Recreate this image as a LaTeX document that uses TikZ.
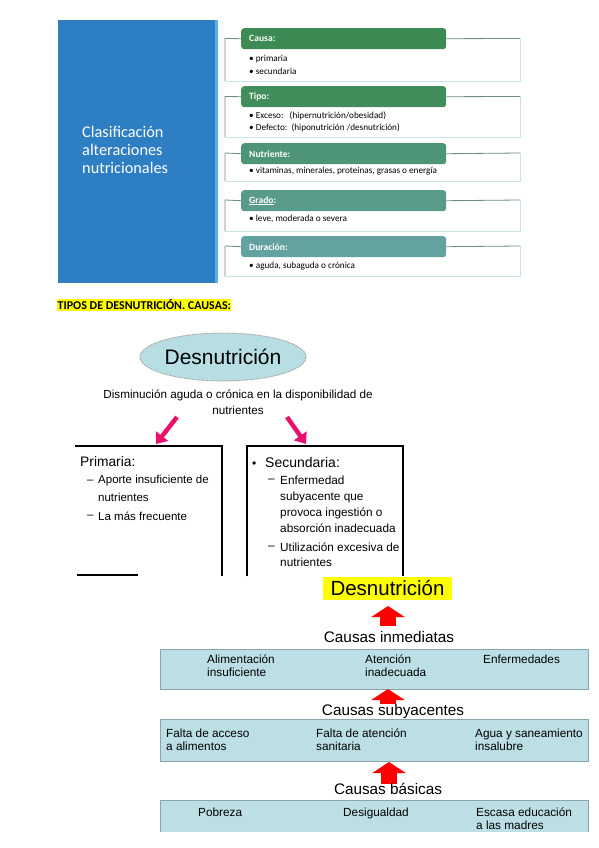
\documentclass[tikz,border=0pt]{standalone}
\usepackage{fontspec}
\setmainfont{Liberation Sans}
\newfontfamily\calfont{Carlito}
\usetikzlibrary{shapes.geometric,arrows.meta}
\definecolor{panelblue}{RGB}{46,126,196}
\definecolor{stripeblue}{RGB}{90,176,232}
\definecolor{hA}{RGB}{62,138,85}
\definecolor{hB}{RGB}{65,141,92}
\definecolor{hC}{RGB}{78,148,118}
\definecolor{hD}{RGB}{89,155,138}
\definecolor{hE}{RGB}{99,162,158}
\definecolor{brkdark}{RGB}{110,140,130}
\definecolor{brklight}{RGB}{200,228,230}
\definecolor{ellblue}{RGB}{182,222,227}
\definecolor{bandblue}{RGB}{188,223,229}
\definecolor{bandedge}{RGB}{140,165,170}
\definecolor{pinkarr}{RGB}{234,16,108}
\definecolor{hl}{RGB}{255,255,0}
\tikzset{
  hdr/.style={anchor=north west, rounded corners=3pt, minimum width=205, minimum height=21,
    text width=189, inner xsep=8, inner ysep=0, align=left, text=white,
    font=\calfont\bfseries\fontsize{9.6}{10}\selectfont},
  itm/.style={anchor=west, inner sep=0, font=\calfont\fontsize{9.2}{10}\selectfont},
  brkd/.style={draw=brkdark, line width=0.8},
  brkl/.style={draw=brklight, line width=0.8},
  pinkarrow/.style={draw=pinkarr, line width=4.5, -{Triangle[length=10pt,width=15pt]}},
  redarrow/.style={draw=red, line width=16, -{Triangle[length=11pt,width=33pt]}},
  boxline/.style={draw=black, line width=1.6},
  ptxt/.style={anchor=west, inner sep=0, font=\fontsize{11.5}{12}\selectfont},
  stxt/.style={anchor=west, inner sep=0, font=\fontsize{11.8}{13}\selectfont},
  band/.style={fill=bandblue, draw=bandedge, line width=1},
  btxt/.style={anchor=north west, inner sep=0, align=left, font=\fontsize{11.8}{12.8}\selectfont},
  lbl/.style={inner sep=0, font=\fontsize{15.3}{17}\selectfont},
}
\begin{document}
\begin{tikzpicture}[x=1pt,y=-1pt]
\useasboundingbox (0,0) rectangle (599,848);
\fill[white] (0,0) rectangle (599,848);

% ---------- top: classification ----------
\fill[panelblue] (58,20) rectangle (215,283);
\fill[stripeblue] (215,20) rectangle (218,283);
\node[anchor=west, inner sep=0, align=left, text=white,
  font=\calfont\fontsize{16.3}{17.6}\selectfont] (title) at (82,150)
  {Clasificación\\alteraciones\\nutricionales};

% item 1
\draw[brkl] (225,81) -- (520,81) -- (520,39);
\node[hdr, fill=hA] (h1) at (241,28) {Causa:};
\draw[brkd] (h1.west) -- (225,38.5) -- (225,81);
\draw[brkd] (h1.east) -- (520,38.5);
\node[itm] (i1a) at (249,59) {• primaria};
\node[itm] (i1b) at (249,71) {• secundaria};

% item 2
\draw[brkl] (225,137) -- (520,137) -- (520,96);
\node[hdr, fill=hB] (h2) at (241,86) {Tipo:};
\draw[brkd] (h2.west) -- (225,96.5) -- (225,137);
\draw[brkd] (h2.east) -- (520,96.5);
\node[itm] (i2a) at (249,116) {• Exceso:\ \ \ (hipernutrición/obesidad)};
\node[itm] (i2b) at (249,128) {• Defecto:\ \ (hiponutrición /desnutrición)};

% item 3
\draw[brkl] (225,181) -- (520,181) -- (520,153);
\node[hdr, fill=hC] (h3) at (241,143) {Nutriente:};
\draw[brkd] (h3.west) -- (225,153) -- (225,181);
\draw[brkd] (h3.east) -- (520,153);
\node[itm] (i3a) at (249,171) {• vitaminas, minerales, proteínas, grasas o energía};

% item 4
\draw[brkl] (225,231) -- (520,231) -- (520,200);
\node[hdr, fill=hD] (h4) at (241,190) {\underline{Grado}:};
\draw[brkd] (h4.west) -- (225,200) -- (225,231);
\draw[brkd] (h4.east) -- (520,200);
\node[itm] (i4a) at (249,219) {• leve, moderada o severa};

% item 5
\draw[brkl] (225,276) -- (520,276) -- (520,246);
\node[hdr, fill=hE] (h5) at (241,236) {Duración:};
\draw[brkd] (h5.west) -- (225,246) -- (225,276);
\draw[brkd] (h5.east) -- (520,246);
\node[itm] (i5a) at (249,266) {• aguda, subaguda o crónica};

% ---------- title ----------
\node[anchor=west, fill=hl, inner xsep=0.5, inner ysep=1.2,
  font=\calfont\bfseries\fontsize{12}{13}\selectfont] (tipos) at (57,305)
  {TIPOS DE DESNUTRICIÓN. CAUSAS:};

% ---------- middle: desnutrición types ----------
\node[ellipse, fill=ellblue, draw=gray!70, line width=1, dash pattern=on 1.5pt off 1pt,
  minimum width=166, minimum height=48, inner sep=0,
  font=\fontsize{21}{24}\selectfont] (des) at (223,357) {Desnutrición};
\node[inner sep=0, align=center, font=\fontsize{11.7}{16.5}\selectfont] (defn) at (238,402)
  {Disminución aguda o crónica en la disponibilidad de\\nutrientes};

\coordinate (pa1s) at (177,417);
\coordinate (pa1e) at (156,444);
\coordinate (pa2s) at (287,417);
\coordinate (pa2e) at (306,444);
\draw[pinkarrow] (pa1s) -- (pa1e);
\draw[pinkarrow] (pa2s) -- (pa2e);

% primaria box
\coordinate (pTL) at (75,446);
\coordinate (pTR) at (222,446);
\coordinate (pBR) at (222,576);
\draw[boxline] (pTL) -- (pTR) -- (pBR);
\coordinate (pb1) at (77,575);
\coordinate (pb2) at (138,575);
\draw[draw=black, line width=1.2] (pb1) -- (pb2);
\node[anchor=west, inner sep=0, font=\fontsize{13.8}{15}\selectfont] (prim) at (80,462) {Primaria:};
\node[ptxt] (pd1) at (87,482) {–};
\node[ptxt] (p1a) at (98,481) {Aporte insuficiente de};
\node[ptxt] (p1b) at (98,497) {nutrientes};
\node[ptxt] (pd2) at (87,517) {–};
\node[ptxt] (p2a) at (98,516) {La más frecuente};

% secundaria box
\coordinate (sBL) at (247,576);
\coordinate (sTL) at (247,446);
\coordinate (sTR) at (403,446);
\coordinate (sBR) at (403,576);
\draw[boxline] (sBL) -- (sTL) -- (sTR) -- (sBR);
\node[anchor=base west, inner sep=0, font=\fontsize{12}{13}\selectfont] (sbul) at (252,467) {•};
\node[anchor=west, inner sep=0, font=\fontsize{14}{15}\selectfont] (sec) at (265,462) {Secundaria:};
\node[stxt] (sd1) at (268,481) {–};
\node[stxt] (s1a) at (280,480) {Enfermedad};
\node[stxt] (s1b) at (280,497) {subyacente que};
\node[stxt] (s1c) at (280,513) {provoca ingestión o};
\node[stxt] (s1d) at (280,528) {absorción inadecuada};
\node[stxt] (sd2) at (268,548) {–};
\node[stxt] (s2a) at (280,547) {Utilización excesiva de};
\node[stxt] (s2b) at (280,562) {nutrientes};

% ---------- bottom: causes ----------
\node[fill=hl, minimum width=129, minimum height=23, inner sep=0,
  font=\fontsize{20.5}{23}\selectfont] (des2) at (387.5,588.5) {Desnutrición};

\coordinate (ra1s) at (388,626);
\coordinate (ra1e) at (388,606);
\draw[redarrow] (ra1s) -- (ra1e);
\node[lbl] (ci) at (389,637) {Causas inmediatas};

\node[band, anchor=north west, minimum width=428, minimum height=40, inner sep=0] (b1) at (160,649) {};
\node[btxt] (b1a) at (207,655) {Alimentación\\insuficiente};
\node[btxt] (b1b) at (365,655) {Atención\\inadecuada};
\node[btxt] (b1c) at (483,655) {Enfermedades};

\coordinate (ra2s) at (388,704);
\coordinate (ra2e) at (388,689);
\draw[redarrow] (ra2s) -- (ra2e);
\node[lbl] (cs) at (393,712) {Causas subyacentes};

\node[band, anchor=north west, minimum width=428, minimum height=42, inner sep=0] (b2) at (160,719) {};
\node[btxt] (b2a) at (166,729) {Falta de acceso\\a alimentos};
\node[btxt] (b2b) at (316,729) {Falta de atención\\sanitaria};
\node[btxt] (b2c) at (475,729) {Agua y saneamiento\\insalubre};

\coordinate (ra3s) at (389,784);
\coordinate (ra3e) at (389,762);
\draw[redarrow] (ra3s) -- (ra3e);
\node[lbl] (cb) at (388,789) {Causas básicas};

\fill[bandblue] (160,800) rectangle (588,832);
\coordinate (b3bl) at (160,832);
\coordinate (b3tl) at (160,800);
\coordinate (b3tr) at (588,800);
\coordinate (b3br) at (588,832);
\draw[draw=bandedge, line width=1] (b3bl) -- (b3tl) -- (b3tr) -- (b3br);
\node[btxt] (b3a) at (198,808) {Pobreza};
\node[btxt] (b3b) at (343,808) {Desigualdad};
\node[btxt] (b3c) at (476,808) {Escasa educación\\a las madres};
\end{tikzpicture}
\end{document}
